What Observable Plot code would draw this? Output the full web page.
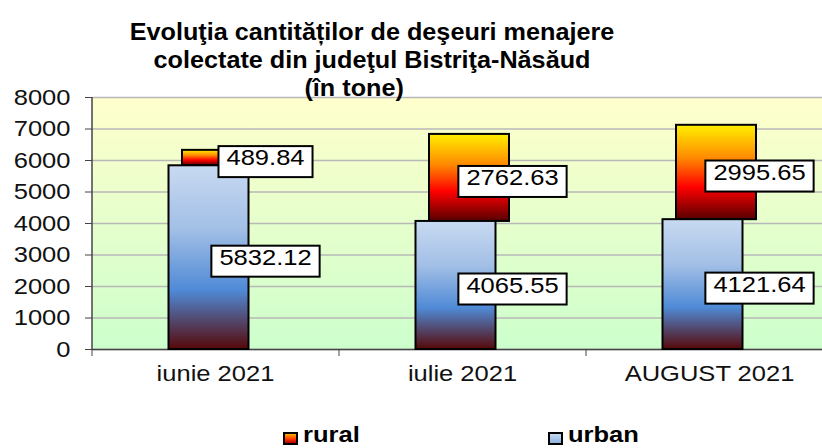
<!DOCTYPE html>
<html><head><meta charset="utf-8">
<script src="https://cdn.jsdelivr.net/npm/d3@7"></script>
<script src="https://cdn.jsdelivr.net/npm/@observablehq/plot@0.6"></script>
<style>
body{margin:0;background:#fff;font-family:"Liberation Sans",Arial,sans-serif;}
#wrap{position:relative;width:822px;height:448px;overflow:hidden;}
#chart{position:absolute;left:0;top:0;}
#title{position:absolute;left:0;top:18px;width:744px;text-align:center;font-weight:bold;font-size:24px;line-height:28px;color:#000;transform:scaleX(1.05);transform-origin:372px 0;z-index:2;}
#title .l3{padding-right:34px;}
.leg{position:absolute;top:426px;height:18px;font-weight:bold;font-size:22px;line-height:18px;color:#000;}
.leg .sw{position:absolute;left:0;top:6px;width:11px;height:9px;border:2px solid #000;}
.leg .tx{position:absolute;left:20px;top:0;white-space:nowrap;transform:scaleX(1.16);transform-origin:0 0;}
</style></head><body>
<div id="wrap">
  <div id="chart"></div>
  <div id="title"><div>Evoluţia cantităților de deşeuri menajere</div><div>colectate din judeţul Bistriţa-Năsăud</div><div class="l3">(în tone)</div></div>
  <div id="legend"></div>
</div>
<script>
// ---- data ----
const months = ["iunie 2021", "iulie 2021", "AUGUST 2021"];
const urban = [5832.12, 4065.55, 4121.64];
const rural = [489.84, 2762.63, 2995.65];
const yTicks = [0, 1000, 2000, 3000, 4000, 5000, 6000, 7000, 8000];
const seriesNames = ["rural", "urban"];

const rows = months.map((m, i) => ({month: m, urban: urban[i], rural: rural[i], total: urban[i] + rural[i]}));

const ns = "http://www.w3.org/2000/svg";
function grad(id, stops) {
  const g = document.createElementNS(ns, "linearGradient");
  g.setAttribute("id", id);
  g.setAttribute("x1", "0"); g.setAttribute("y1", "0");
  g.setAttribute("x2", "0"); g.setAttribute("y2", "1");
  for (const [o, c] of stops) {
    const s = document.createElementNS(ns, "stop");
    s.setAttribute("offset", o);
    s.setAttribute("stop-color", c);
    g.appendChild(s);
  }
  return g;
}
const defsMark = () => {
  const d = document.createElementNS(ns, "defs");
  d.appendChild(grad("bgGrad", [[0, "#FFFFCC"], [1, "#CCFFCC"]]));
  d.appendChild(grad("urbanGrad", [[0, "#C8DAF1"], [0.35, "#A2BFE6"], [0.68, "#4F8AD6"], [1, "#560808"]]));
  d.appendChild(grad("ruralGrad", [[0, "#FFF000"], [0.35, "#FF8A00"], [0.66, "#FF0000"], [1, "#580000"]]));
  return d;
};

const xRange = [92, 833];
const step = (xRange[1] - xRange[0]) / months.length;

const chart = Plot.plot({
  width: 822,
  height: 448,
  marginLeft: 92,
  marginRight: 0,
  marginTop: 97,
  marginBottom: 99,
  style: {fontFamily: "'Liberation Sans', Arial, sans-serif", fontSize: "22px", color: "#111", background: "transparent"},
  x: {domain: months, range: xRange, paddingInner: 0.676, paddingOuter: 0.338, label: null},
  y: {domain: [0, 8000], label: null},
  marks: [
    defsMark,
    Plot.frame({fill: "url(#bgGrad)", stroke: "none"}),
    Plot.gridY(yTicks, {stroke: "#b8b8b8", strokeOpacity: 1, strokeWidth: 1.5}),
    Plot.axisY(yTicks, {tickSize: 7, tickPadding: 15, fontSize: 22, stroke: "#444", tickFormat: d => String(d)}),
    Plot.axisX({tickSize: 7, tickFormat: () => "", stroke: "#444", dx: -step / 2}),
    Plot.axisX({tickSize: 0, tickPadding: 16, fontSize: 22}),
    Plot.ruleX([months[0]], {dx: -step / 2, stroke: "#444", strokeWidth: 1.5}),
    Plot.ruleY([0], {stroke: "#444", strokeWidth: 1.5}),
    Plot.barY(rows, {x: "month", y1: "urban", y2: "total", dx: 7, fill: "url(#ruralGrad)", stroke: "#000", strokeWidth: 2}),
    Plot.barY(rows, {x: "month", y1: 0, y2: "urban", dx: -6.5, fill: "url(#urbanGrad)", stroke: "#000", strokeWidth: 2}),
    Plot.text(rows, {x: "month", y: d => d.urban / 2, text: d => d.urban.toFixed(2), dx: 50, fontSize: 22, fill: "#000"}),
    Plot.text(rows, {x: "month", y: d => d.urban + d.rural / 2, text: d => d.rural.toFixed(2), dx: 50, fontSize: 22, fill: "#000"})
  ]
});
document.getElementById("chart").appendChild(chart);

// horizontal stretch of all SVG text, like the reference
const S = 1.16;
chart.querySelectorAll("text").forEach(t => {
  const w = t.getComputedTextLength();
  if (w > 0) {
    t.setAttribute("textLength", (w * S).toFixed(2));
    t.setAttribute("lengthAdjust", "spacingAndGlyphs");
  }
});
// boxed value labels
chart.querySelectorAll('g[aria-label="text"] text').forEach(t => {
  const b = t.getBBox();
  const r = document.createElementNS(ns, "rect");
  r.setAttribute("x", b.x - 8);
  r.setAttribute("y", b.y + 1);
  r.setAttribute("width", b.width + 16);
  r.setAttribute("height", b.height + 6);
  r.setAttribute("fill", "#fff");
  r.setAttribute("stroke", "#000");
  r.setAttribute("stroke-width", 2);
  const tr = t.getAttribute("transform");
  if (tr) r.setAttribute("transform", tr);
  t.parentNode.insertBefore(r, t);
});

// legend
const legendPos = {rural: 283, urban: 548};
const legendFill = {
  rural: "linear-gradient(#FFB000, #FF3000 60%, #B00000)",
  urban: "linear-gradient(#C6D9F1, #8DB3E2)"
};
const leg = document.getElementById("legend");
seriesNames.forEach(n => {
  const item = document.createElement("div");
  item.className = "leg";
  item.style.left = legendPos[n] + "px";
  const sw = document.createElement("div");
  sw.className = "sw";
  sw.style.background = legendFill[n];
  const tx = document.createElement("span");
  tx.className = "tx";
  tx.textContent = n;
  item.appendChild(sw);
  item.appendChild(tx);
  leg.appendChild(item);
});
</script>
</body></html>
